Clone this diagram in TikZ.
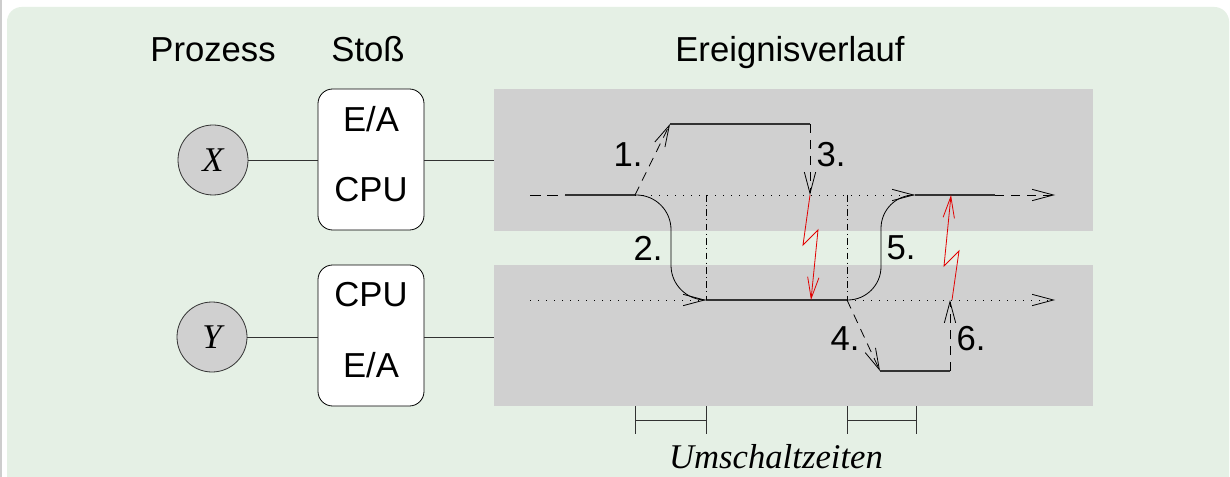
\documentclass[tikz,border=0pt]{standalone}
\usepackage{fontspec}
\setmainfont{Liberation Sans}
\newfontfamily\serifit{Liberation Serif}
\usetikzlibrary{arrows.meta}
\definecolor{bggreen}{RGB}{229,240,229}
\definecolor{bandgray}{RGB}{208,208,208}
\definecolor{linegray}{RGB}{50,50,50}
\definecolor{zred}{RGB}{225,0,0}
\definecolor{edgegray}{RGB}{205,205,205}
\begin{document}
\begin{tikzpicture}[x=0.75pt,y=-0.75pt,
  every node/.style={font=\fontsize{26}{30}\selectfont},
  tip/.style={-{Straight Barb[length=16pt,width=8.5pt,line width=0.6pt]}},
  thinline/.style={line width=0.6pt, black},
  solidline/.style={line width=0.9pt, linegray},
  dashline/.style={line width=0.6pt, dash pattern=on 7pt off 5pt},
  startdash/.style={line width=0.6pt, dash pattern=on 8pt off 5pt},
  dotline/.style={line width=0.7pt, dash pattern=on 0.8pt off 5.2pt},
  dashdotline/.style={line width=0.6pt, dash pattern=on 5pt off 2.5pt on 0.8pt off 2.5pt},
  proc/.style={circle, draw=linegray, line width=0.6pt, fill=bandgray, minimum size=52.5pt, inner sep=0pt},
  stossbox/.style={rectangle, rounded corners=11pt, draw=black, line width=0.6pt, fill=white, minimum width=79.5pt, minimum height=105.75pt, inner sep=0pt},
  band/.style={rectangle, fill=bandgray, minimum width=449.25pt, minimum height=106pt, inner sep=0pt},
  conn/.style={line width=0.6pt, linegray},
  redbolt/.style={zred, line width=0.6pt, -{Straight Barb[length=16pt,width=8.5pt,line width=0.6pt]}},
]
\useasboundingbox (0,0) rectangle (1230,477);
\clip (0,0) rectangle (1230,477);
\fill[white] (0,0) rectangle (1230,477);
\fill[edgegray] (0,0) rectangle (2,477);
\fill[bggreen, rounded corners=11pt] (7,7) rectangle (1229,540);

% headings
\node[anchor=base] (hProz) at (213,62) {Prozess};
\node[anchor=base] (hStoss) at (368,62) {Stoß};
\node[anchor=base] (hEreig) at (790,62) {Ereignisverlauf};

% bands
\node[band] (BT) at (793.5,160) {};
\node[band] (BB) at (793.5,335.5) {};

% processes
\node[proc] (X) at (213,160) {\serifit\itshape X};
\node[proc] (Y) at (212,337) {\serifit\itshape Y};

% boxes
\node[stossbox] (SX) at (371,159.5) {};
\node[stossbox] (SY) at (371,335.5) {};
\node[anchor=base] (SXa) at (371,131.5) {E/A};
\node[anchor=base] (SXb) at (371,201.5) {CPU};
\node[anchor=base] (SYa) at (371,306.5) {CPU};
\node[anchor=base] (SYb) at (371,377.5) {E/A};

% connectors
\draw[conn] (X.east) -- (X.east -| SX.west);
\draw[conn] (SX.east |- X) -- (BT.west |- X);
\draw[conn] (Y.east) -- (Y.east -| SY.west);
\draw[conn] (SY.east |- Y) -- (BB.west |- Y);

% key points
\coordinate (a0) at (530,195);
\coordinate (a1) at (565,195);
\coordinate (A) at (635,195);
\coordinate (Bu) at (670,124);
\coordinate (Cu) at (810,124);
\coordinate (C) at (810,195);
\coordinate (T1) at (706,195);
\coordinate (T2) at (847,195);
\coordinate (D) at (915,195);
\coordinate (E) at (995,195);
\coordinate (Eend) at (1055,195);
\coordinate (b0) at (530,300);
\coordinate (F) at (706,300);
\coordinate (G) at (847,300);
\coordinate (Gend) at (1055,300);
\coordinate (Hd) at (880,371);
\coordinate (Id) at (950,371);
\coordinate (I) at (950,300);

% upper timeline
\draw[startdash] (a0) -- (a1);
\draw[solidline] (a1) -- (A);
\draw[dotline] (A) -- (D);
\draw[solidline] (D) -- (E);
\draw[dashline, tip] (E) -- (Eend);
\draw[dashline, tip] (A) -- (Bu);
\draw[solidline] (Bu) -- (Cu);
\draw[dashline, tip] (Cu) -- (C);

% lower timeline
\draw[dotline] (b0) -- (F);
\draw[solidline] (F) -- (G);
\draw[dotline, tip] (G) -- (Gend);
\draw[dashline, tip] (G) -- (Hd);
\draw[solidline] (Hd) -- (Id);
\draw[dashline, tip] (Id) -- (I);

% switches
\draw[thinline, tip, rounded corners=26pt] (A) -- (671,195) -- (671,300) -- (F);
\draw[thinline, tip, rounded corners=25pt] (G) -- (881,300) -- (881,195) -- (D);

% dash-dot verticals
\draw[dashdotline] (T1) -- (F);
\draw[dashdotline] (T2) -- (G);

% lightning
\draw[redbolt] (C) -- (803,245) -- (818,230) -- (811,300);
\draw[redbolt] (952,300) -- (959,251) -- (944,266) -- (951,195);

% labels
\node[anchor=base] (l1) at (628,167) {1.};
\node[anchor=base] (l3) at (831,167) {3.};
\node[anchor=base] (l2) at (648,260) {2.};
\node[anchor=base] (l5) at (901,259) {5.};
\node[anchor=base] (l4) at (845,350) {4.};
\node[anchor=base] (l6) at (971,350) {6.};

% Umschaltzeiten brackets
\coordinate (u1a) at (635,420);
\coordinate (u1b) at (706,420);
\coordinate (u2a) at (847,420);
\coordinate (u2b) at (916,420);
\draw[conn] (635,406) -- (635,434);
\draw[conn] (706,406) -- (706,434);
\draw[conn] (u1a) -- (u1b);
\draw[conn] (847,406) -- (847,434);
\draw[conn] (916,406) -- (916,434);
\draw[conn] (u2a) -- (u2b);
\node[anchor=base, font=\serifit\itshape\fontsize{26}{30}\selectfont] (us) at (776,468) {Umschaltzeiten};
\end{tikzpicture}
\end{document}
